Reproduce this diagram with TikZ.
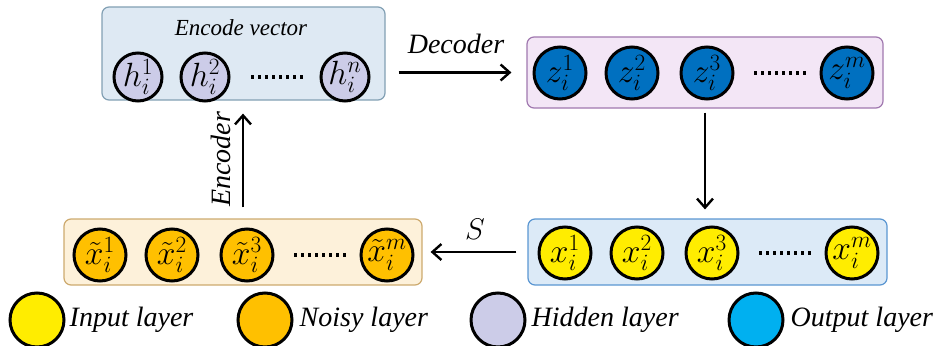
\documentclass[tikz,border=0pt]{standalone}
\usepackage{amsmath}
\usepackage{graphicx}
\usepackage{fontspec}
\setmainfont{Liberation Serif}
\usepackage{tikz}
\usetikzlibrary{positioning}
\usetikzlibrary{arrows.meta}

\definecolor{hiddenfill}{RGB}{204,204,232}
\definecolor{outfill}{RGB}{0,112,192}
\definecolor{outkey}{RGB}{0,176,240}
\definecolor{noisyfill}{RGB}{255,192,0}
\definecolor{inputfill}{RGB}{255,237,0}
\definecolor{encpanel}{RGB}{222,233,243}
\definecolor{encedge}{RGB}{130,160,180}
\definecolor{decpanel}{RGB}{243,230,246}
\definecolor{decedge}{RGB}{160,120,175}
\definecolor{noisypanel}{RGB}{253,241,218}
\definecolor{noisyedge}{RGB}{205,170,110}
\definecolor{inpanel}{RGB}{220,234,247}
\definecolor{inedge}{RGB}{90,150,210}

\newcommand{\dotrow}{\foreach \k in {1,...,8}{\ifnum\k>1\hspace{3.5pt}\fi\rule{3.5pt}{3.5pt}}}
\newcommand{\cellsym}[1]{\scalebox{1.35}{$#1$}}

\begin{document}
\begin{tikzpicture}[x=1pt, y=-1pt,
    layer/.style={on grid, circle, draw=black, line width=3pt, inner sep=0pt, minimum size=52pt, font=\fontsize{24}{26}\selectfont},
    etc/.style={on grid, inner sep=0pt},
    panel/.style={rounded corners=7pt, line width=1.2pt},
    flow/.style={line width=2.4pt, -{Straight Barb[length=9pt, width=16pt]}},
    lbl/.style={font=\fontsize{28}{30}\selectfont\itshape, inner sep=0pt},
    keytext/.style={lbl, anchor=west}]

    \useasboundingbox (0,0) rectangle (933,345);

    % panels
    \node[panel, fill=encpanel, draw=encedge, minimum width=283pt, minimum height=93pt] (enc) at (243.5,53.5) {};
    \node[panel, fill=decpanel, draw=decedge, minimum width=356pt, minimum height=71pt] (dec) at (705,72.5) {};
    \node[panel, fill=noisypanel, draw=noisyedge, minimum width=358pt, minimum height=66pt] (noisy) at (243,252) {};
    \node[panel, fill=inpanel, draw=inedge, minimum width=359pt, minimum height=66pt] (inp) at (707.5,252) {};

    % hidden layer
    \node[font=\fontsize{23}{25}\selectfont\itshape] (title) at (241,28) {Encode vector};
    \node[layer, fill=hiddenfill, minimum size=48pt] (h1) at (138,77) {\cellsym{h_i^1}};
    \node[layer, fill=hiddenfill, minimum size=48pt, right=67pt of h1] (h2) {\cellsym{h_i^2}};
    \node[etc, right=72pt of h2] (hdots) {\dotrow};
    \node[layer, fill=hiddenfill, minimum size=48pt, right=68pt of hdots] (hn) {\cellsym{h_i^n}};

    % output layer
    \node[layer, fill=outfill] (z1) at (560,73) {\cellsym{z_i^1}};
    \node[layer, fill=outfill, right=72pt of z1] (z2) {\cellsym{z_i^2}};
    \node[layer, fill=outfill, right=75pt of z2] (z3) {\cellsym{z_i^3}};
    \node[etc, right=73pt of z3] (zdots) {\dotrow};
    \node[layer, fill=outfill, right=67pt of zdots] (zm) {\cellsym{z_i^m}};

    % noisy layer
    \node[layer, fill=noisyfill] (n1) at (100,255) {\cellsym{\tilde{x}_i^1}};
    \node[layer, fill=noisyfill, right=72pt of n1] (n2) {\cellsym{\tilde{x}_i^2}};
    \node[layer, fill=noisyfill, right=75pt of n2] (n3) {\cellsym{\tilde{x}_i^3}};
    \node[etc, right=73pt of n3] (ndots) {\dotrow};
    \node[layer, fill=noisyfill, right=67pt of ndots] (nm) {\cellsym{\tilde{x}_i^m}};

    % input layer
    \node[layer, fill=inputfill] (x1) at (565,253) {\cellsym{x_i^1}};
    \node[layer, fill=inputfill, right=72pt of x1] (x2) {\cellsym{x_i^2}};
    \node[layer, fill=inputfill, right=75pt of x2] (x3) {\cellsym{x_i^3}};
    \node[etc, right=73pt of x3] (xdots) {\dotrow};
    \node[layer, fill=inputfill, right=67pt of xdots] (xm) {\cellsym{x_i^m}};

    % arrows
    \draw[flow, shorten <=13pt, shorten >=15pt] (enc.east |- dec) -- (dec)
        node[lbl, midway, above=18pt] {Decoder};
    \draw[flow, shorten <=4pt, shorten >=9pt] (dec.south) -- (dec.south |- inp.north);
    \draw[flow, shorten <=11pt, shorten >=8pt] (inp.west) -- (inp.west -| noisy.east)
        node[midway, above=11pt, inner sep=0pt, font=\fontsize{24}{26}\selectfont] {\scalebox{1.2}{$S$}};
    \draw[flow, shorten <=11pt, shorten >=13pt] (noisy.north) -- (noisy.north |- enc.south)
        node[lbl, midway, sloped, above=11pt] {Encoder};

    % legend
    \node[layer, fill=inputfill, minimum size=54pt] (kin) at (37,320) {};
    \node[keytext, right=4pt of kin] (kintext) {Input layer};
    \node[layer, fill=noisyfill, minimum size=54pt] (knoisy) at (265,320) {};
    \node[keytext, right=6pt of knoisy] (knoisytext) {Noisy layer};
    \node[layer, fill=hiddenfill, minimum size=54pt] (khidden) at (498,320) {};
    \node[keytext, right=5pt of khidden] (khiddentext) {Hidden layer};
    \node[layer, fill=outkey, minimum size=54pt] (kout) at (756,320) {};
    \node[keytext, right=6pt of kout] (kouttext) {Output layer};
\end{tikzpicture}
\end{document}
